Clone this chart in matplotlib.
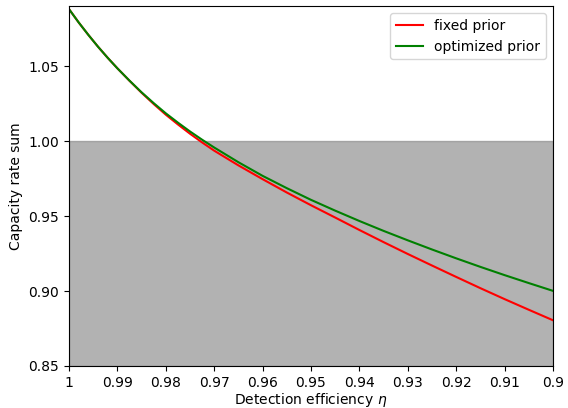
import matplotlib
matplotlib.use("Agg")
import matplotlib.pyplot as plt

# detection efficiency values (x axis, inverted)
eta = [1.0, 0.998, 0.996, 0.994, 0.992, 0.99, 0.9875, 0.985, 0.9825, 0.98,
       0.9775, 0.975, 0.9725, 0.97, 0.965, 0.96, 0.955, 0.95, 0.945, 0.94,
       0.935, 0.93, 0.925, 0.92, 0.915, 0.91, 0.905, 0.90]

fixed = [1.0880, 1.0791, 1.0708, 1.0629, 1.0555, 1.0485, 1.0402, 1.0322, 1.0247, 1.0176,
         1.0111, 1.0049, 0.9991, 0.9936, 0.9838, 0.9746, 0.9657, 0.9572, 0.9490, 0.9407,
         0.9326, 0.9247, 0.9170, 0.9094, 0.9019, 0.8946, 0.8875, 0.8805]
optimized = [1.0880, 1.0791, 1.0708, 1.0629, 1.0555, 1.0485, 1.0403, 1.0325, 1.0253, 1.0185,
             1.0123, 1.0064, 1.0009, 0.9957, 0.9859, 0.9768, 0.9686, 0.9608, 0.9536, 0.9467,
             0.9401, 0.9338, 0.9277, 0.9218, 0.9161, 0.9106, 0.9053, 0.9001]

xticks = [1, 0.99, 0.98, 0.97, 0.96, 0.95, 0.94, 0.93, 0.92, 0.91, 0.9]
xticklabels = ["1", "0.99", "0.98", "0.97", "0.96", "0.95", "0.94", "0.93", "0.92", "0.91", "0.9"]
yticks = [0.85, 0.90, 0.95, 1.00, 1.05]

fig = plt.figure(figsize=(5.68, 4.08), dpi=100)
ax = fig.add_axes([0.1215, 0.103, 0.852, 0.882])

# region below capacity 1 shaded
ax.fill_between([1.0, 0.9], 0.85, 1.0, color="gray", alpha=0.6)
ax.plot(eta, fixed, color="red", label="fixed prior")
ax.plot(eta, optimized, color="green", label="optimized prior")

ax.set_xlim(1.0, 0.9)
ax.set_ylim(0.85, 1.09)
ax.set_xticks(xticks)
ax.set_xticklabels(xticklabels)
ax.set_yticks(yticks)
ax.set_yticklabels(["%.2f" % v for v in yticks])
ax.set_xlabel(r"Detection efficiency $\eta$", labelpad=1)
ax.set_ylabel("Capacity rate sum")
ax.legend(loc="upper right")

fig.savefig("out.png", dpi=100)
